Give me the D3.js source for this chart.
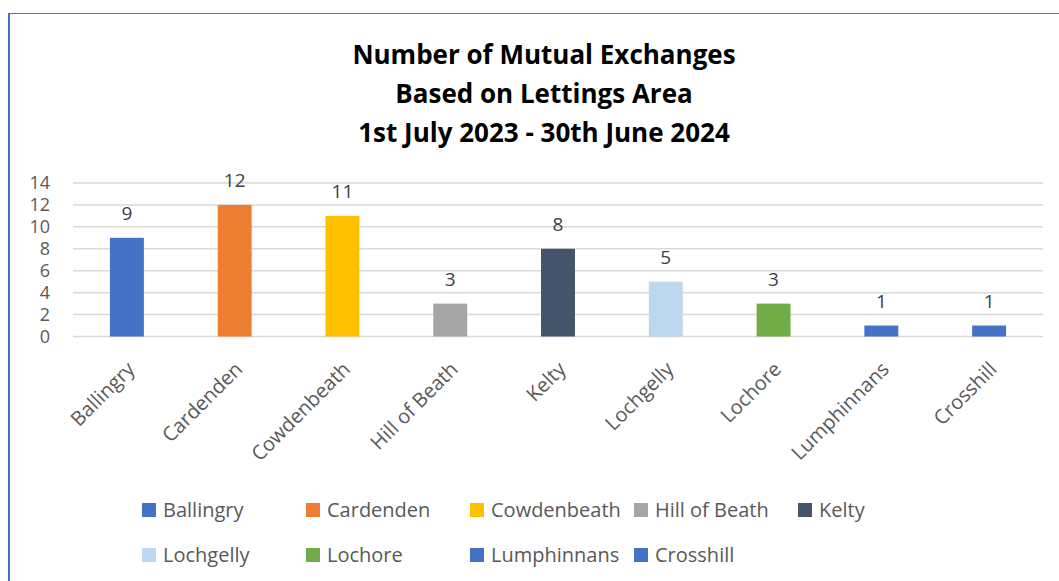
<!DOCTYPE html>
<html>
<head>
<meta charset="utf-8">
<script src="https://cdn.jsdelivr.net/npm/d3@7"></script>
<style>
  body { margin: 0; background: #fff; }
  svg { display: block; font-family: "Open Sans", sans-serif; }
</style>
</head>
<body>
<div id="chart"></div>
<script>
// Lettings areas (x axis)
var areas = ["Ballingry", "Cardenden", "Cowdenbeath", "Hill of Beath", "Kelty",
             "Lochgelly", "Lochore", "Lumphinnans", "Crosshill"];
// Number of mutual exchanges per area
var exchanges = [9, 12, 11, 3, 8, 5, 3, 1, 1];
// Bar colour per area
var barColours = ["#4472C4", "#ED7D31", "#FFC000", "#A5A5A5", "#44546A",
                  "#BDD7EE", "#70AD47", "#4472C4", "#4472C4"];
// Y axis ticks
var yTicks = [0, 2, 4, 6, 8, 10, 12, 14];
// Title lines
var titleLines = ["Number of Mutual Exchanges", "Based on Lettings Area", "1st July 2023 - 30th June 2024"];

var width, height, svg, xScale, yScale;

function drawFrame() {
    // blue frame, only top and left visible
    svg.append("line")
        .attr("x1", 8).attr("x2", width)
        .attr("y1", 13.5).attr("y2", 13.5)
        .attr("stroke", "#4472C4").attr("stroke-width", 1.2);
    svg.append("line")
        .attr("x1", 9).attr("x2", 9)
        .attr("y1", 13).attr("y2", height)
        .attr("stroke", "#4472C4").attr("stroke-width", 2);
}

function drawTitle() {
    svg.selectAll("text.title")
        .data(titleLines)
        .enter()
        .append("text")
        .attr("class", "title")
        .attr("x", 544)
        .attr("y", function (d, i) { return 64 + i * 39; })
        .attr("text-anchor", "middle")
        .attr("font-size", 26)
        .attr("font-weight", "bold")
        .attr("fill", "#000")
        .text(function (d) { return d; });
}

function drawChart() {
    xScale = d3.scaleBand()
        .domain(areas)
        .range([73, 1043])
        .paddingInner(0.685)
        .paddingOuter(0.3425);

    yScale = d3.scaleLinear()
        .domain([0, 14])
        .range([336.5, 183]);

    // gridlines
    svg.append("g")
        .selectAll("line")
        .data(yTicks)
        .enter()
        .append("line")
        .attr("x1", 73).attr("x2", 1043)
        .attr("y1", function (d) { return yScale(d); })
        .attr("y2", function (d) { return yScale(d); })
        .attr("stroke", "#D9D9D9")
        .attr("stroke-width", 1.5);

    // y axis labels
    var yAxis = d3.axisLeft(yScale)
        .tickValues(yTicks)
        .tickSize(0)
        .tickPadding(23);
    var gy = svg.append("g")
        .attr("transform", "translate(73,0)")
        .call(yAxis);
    gy.select(".domain").remove();
    gy.selectAll("text")
        .attr("font-size", 18)
        .attr("font-family", "Open Sans, sans-serif")
        .attr("fill", "#595959");

    // bars
    svg.append("g")
        .selectAll("rect")
        .data(exchanges)
        .enter()
        .append("rect")
        .attr("x", function (d, i) { return xScale(areas[i]); })
        .attr("width", xScale.bandwidth())
        .attr("y", function (d) { return yScale(d); })
        .attr("height", function (d) { return yScale(0) - yScale(d); })
        .attr("fill", function (d, i) { return barColours[i]; });

    // data labels
    svg.append("g")
        .selectAll("text")
        .data(exchanges)
        .enter()
        .append("text")
        .attr("x", function (d, i) { return xScale(areas[i]) + xScale.bandwidth() / 2; })
        .attr("y", function (d) { return yScale(d) - 18; })
        .attr("text-anchor", "middle")
        .attr("font-size", 19)
        .attr("fill", "#404040")
        .text(function (d) { return d; });

    // x axis labels, rotated
    var xAxis = d3.axisBottom(xScale).tickSize(0).tickPadding(0);
    var gx = svg.append("g")
        .attr("transform", "translate(0," + yScale(0) + ")")
        .call(xAxis);
    gx.select(".domain").remove();
    gx.selectAll("text")
        .attr("font-size", 20)
        .attr("font-family", "Open Sans, sans-serif")
        .attr("fill", "#595959")
        .attr("text-anchor", "end")
        .attr("dy", null)
        .attr("y", null)
        .attr("transform", "translate(9,34) rotate(-45)");
}

function drawLegend() {
    var cols = 5;
    var item = svg.append("g")
        .selectAll("g")
        .data(areas)
        .enter()
        .append("g")
        .attr("transform", function (d, i) {
            return "translate(" + (142 + (i % cols) * 164) + "," + (503 + Math.floor(i / cols) * 45) + ")";
        });

    item.append("rect")
        .attr("width", 14)
        .attr("height", 14)
        .attr("fill", function (d, i) { return barColours[i]; });

    item.append("text")
        .attr("x", 21)
        .attr("y", 14)
        .attr("font-size", 20)
        .attr("fill", "#595959")
        .text(function (d) { return d; });
}

function init() {
    width = 1059;
    height = 581;

    svg = d3.select("#chart")
        .append("svg")
        .attr("width", width)
        .attr("height", height);

    drawFrame();
    drawTitle();
    drawChart();
    drawLegend();
}

window.onload = init;
</script>
</body>
</html>
